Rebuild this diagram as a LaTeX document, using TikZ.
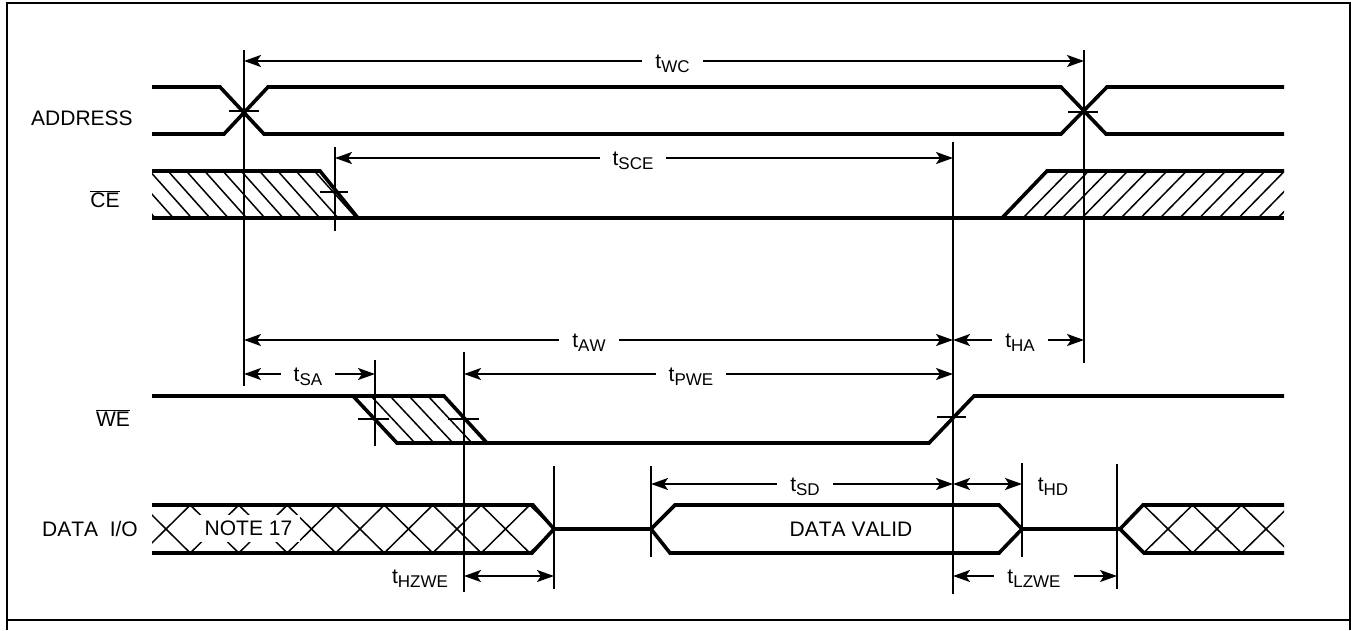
\documentclass[tikz,border=0pt]{standalone}
\usepackage{fontspec}
\setmainfont[Kerning=Off]{Liberation Sans}
\usetikzlibrary{arrows.meta}
\newcommand{\tsub}[1]{t\raisebox{-4pt}{\fontsize{17}{19}\selectfont #1}}
\tikzset{
  sig/.style={line width=3.6pt,miter limit=4},
  thin line/.style={line width=1.9pt},
  hatch/.style={line width=1.5pt},
  frameline/.style={line width=2.6pt},
  dim/.style={line width=1.9pt,{Stealth[length=17pt,width=12pt,inset=4pt]}-{Stealth[length=17pt,width=12pt,inset=4pt]}},
  sigtext/.style={font=\fontsize{21}{24}\selectfont,inner sep=0pt,text height=15pt,text depth=0pt},
  tlabel/.style={font=\fontsize{21}{24}\selectfont,anchor=base,fill=white,inner ysep=0pt,inner xsep=13pt,text height=15pt,text depth=5pt},
}
\begin{document}
\begin{tikzpicture}[x=1pt,y=-1pt]
\useasboundingbox (0,0) rectangle (1351,630);
% frame
\draw[frameline] (7,630) -- (7,3) -- (1350,3) -- (1350,630);
\draw[frameline] (7,620) -- (1350,620);

% hatching
\begin{scope}
\clip (152,171) -- (320,171) -- (358,218) -- (152,218) -- cycle;
\foreach \k [evaluate=\k as \c using 168+18.3*\k] in {-3,...,10}
  \draw[hatch] (\c,171) -- (\c+42,218);
\end{scope}
\begin{scope}
\clip (1002,218) -- (1047,171) -- (1284,171) -- (1284,218) -- cycle;
\foreach \k [evaluate=\k as \c using 1023+19.6*\k] in {0,...,15}
  \draw[hatch] (\c,218) -- (\c+46,171);
\end{scope}
\begin{scope}
\clip (353,396) -- (444,396) -- (487,443) -- (397,443) -- cycle;
\foreach \c in {371,390,409,428}
  \draw[hatch] (\c,396) -- (\c+44,443);
\end{scope}
\begin{scope}
\clip (152,505) -- (533,505) -- (554,529) -- (532,553) -- (152,553) -- cycle;
\foreach \k [evaluate=\k as \c using 166+48.5*\k] in {-1,...,8} {
  \draw[hatch] (\c-24.25,505) -- (\c+24.25,553);
  \draw[hatch] (\c+24.25,505) -- (\c-24.25,553);
}
\end{scope}
\begin{scope}
\clip (1120,529) -- (1143,505) -- (1284,505) -- (1284,553) -- (1144,553) -- cycle;
\foreach \k [evaluate=\k as \c using 1168+49*\k] in {-1,...,3} {
  \draw[hatch] (\c-24.5,505) -- (\c+24.5,553);
  \draw[hatch] (\c+24.5,505) -- (\c-24.5,553);
}
\end{scope}

% waveforms
\draw[sig] (152,87) -- (220,87) -- (264,134) -- (1061,134) -- (1107,87) -- (1284,87);
\draw[sig] (152,134) -- (224,134) -- (268,87) -- (1061,87) -- (1106,134) -- (1284,134);
\draw[sig] (152,171) -- (320,171) -- (358,218);
\draw[sig] (152,218) -- (1284,218);
\draw[sig] (1002,218) -- (1047,171) -- (1284,171);
\draw[sig] (152,396) -- (444,396) -- (487,443);
\draw[sig] (353,396) -- (397,443) -- (929,443) -- (974,396) -- (1284,396);
\draw[sig] (152,505) -- (533,505) -- (554,529) -- (651,529) -- (675,505) -- (999,505) -- (1022,529) -- (1120,529) -- (1143,505) -- (1284,505);
\draw[sig] (152,553) -- (532,553) -- (554,529);
\draw[sig] (651,529) -- (670,553) -- (999,553) -- (1022,529);
\draw[sig] (1120,529) -- (1144,553) -- (1284,553);

% ticks
\draw[thin line] (229,111) -- (259,111);
\draw[thin line] (1068,112) -- (1098,112);
\draw[thin line] (320,192) -- (348,192);
\draw[thin line] (358,419) -- (389,419);
\draw[thin line] (448,419) -- (479,419);
\draw[thin line] (937,417) -- (966,417);

% vertical reference lines
\draw[thin line] (244,50) -- (244,386);
\draw[thin line] (1084,50) -- (1084,363);
\draw[thin line] (335,147) -- (335,231);
\draw[thin line] (375,360) -- (375,446);
\draw[thin line] (464,352) -- (464,592);
\draw[thin line] (953,142) -- (953,594);
\draw[thin line] (554,466) -- (554,589);
\draw[thin line] (651,466) -- (651,557);
\draw[thin line] (1022,463) -- (1022,557);
\draw[thin line] (1117,464) -- (1117,589);

% named dimension ends
\coordinate (wcL) at (244,61);   \coordinate (wcR) at (1084,61);
\coordinate (sceL) at (335,158); \coordinate (sceR) at (953,158);
\coordinate (awL) at (244,340);  \coordinate (awR) at (953,340);
\coordinate (haL) at (953,340);  \coordinate (haR) at (1084,340);
\coordinate (saL) at (244,374);  \coordinate (saR) at (375,374);
\coordinate (pweL) at (464,374); \coordinate (pweR) at (953,374);
\coordinate (sdL) at (651,484);  \coordinate (sdR) at (953,484);
\coordinate (hdL) at (953,484);  \coordinate (hdR) at (1022,484);
\coordinate (hzL) at (464,576);  \coordinate (hzR) at (554,576);
\coordinate (lzL) at (953,576);  \coordinate (lzR) at (1117,576);

\draw[dim] (wcL) -- (wcR);
\draw[dim] (sceL) -- (sceR);
\draw[dim] (awL) -- (awR);
\draw[dim] (haL) -- (haR);
\draw[dim] (saL) -- (saR);
\draw[dim] (pweL) -- (pweR);
\draw[dim] (sdL) -- (sdR);
\draw[dim] (hdL) -- (hdR);
\draw[dim] (hzL) -- (hzR);
\draw[dim] (lzL) -- (lzR);

% timing labels
\node[tlabel] (lwc) at (672.5,68) {\tsub{WC}};
\node[tlabel] (lsce) at (633,165) {\tsub{SCE}};
\node[tlabel] (law) at (589,347) {\tsub{AW}};
\node[tlabel] (lha) at (1020,347) {\tsub{HA}};
\node[tlabel] (lsa) at (308,381) {\tsub{SA}};
\node[tlabel] (lpwe) at (691,381) {\tsub{PWE}};
\node[tlabel] (lsd) at (805,491) {\tsub{SD}};
\node[tlabel,inner xsep=0pt] (lhd) at (1053,491) {\tsub{HD}};
\node[tlabel,inner xsep=0pt] (lhz) at (420,583) {\tsub{HZWE}};
\node[tlabel] (llz) at (1034,583) {\tsub{LZWE}};

% signal names
\node[sigtext] (address) at (82,118) {ADDRESS};
\node[sigtext] (ce) at (105,200) {$\overline{\mbox{CE}}$};
\node[sigtext] (we) at (113,419) {$\overline{\mbox{WE}}$};
\node[sigtext] (dataio) at (90,529) {DATA\ \ I/O};
\node[sigtext] (valid) at (851,529) {DATA VALID};
\node[sigtext,fill=white,minimum width=103pt,minimum height=27pt] (note) at (248.5,528) {NOTE 17};
\end{tikzpicture}
\end{document}
